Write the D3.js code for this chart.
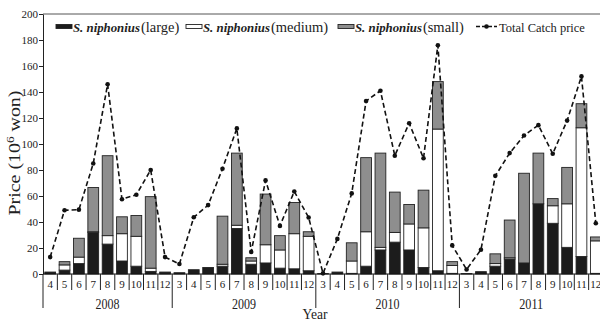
<!DOCTYPE html>
<html>
<head>
<meta charset="utf-8">
<script src="https://cdn.jsdelivr.net/npm/d3@7"></script>
<style>
  body { margin: 0; background: #fff; }
  text { font-family: "Liberation Serif", "Times New Roman", serif; fill: #222; }
</style>
</head>
<body>
<div id="root"></div>
<script>
const width = 600;
const height = 323;

// data (10^6 won)
const years = ['2008', '2009', '2010', '2011'];
const monthsByYear = [
  [4, 5, 6, 7, 8, 9, 10, 11, 12],
  [3, 4, 5, 6, 7, 8, 9, 10, 11, 12],
  [3, 4, 5, 6, 7, 8, 9, 10, 11, 12],
  [3, 4, 5, 6, 7, 8, 9, 10, 11, 12]
];
const large = [
  1.5, 3, 8, 32, 23, 10, 6, 2, 1.5,
  1, 3.3, 5, 6, 35, 7.5, 8.5, 4.5, 4, 2.5,
  0.3, 1.5, 0.5, 6, 18.5, 24.5, 18.5, 5, 2.5, 0.5,
  0.3, 1.8, 6, 11.5, 8.5, 54, 39, 20.5, 13.5, 0.5
];
const medium = [
  0, 4, 5, 0.5, 6.5, 21, 23, 2.5, 0,
  0, 0, 0, 1.5, 2.5, 2.5, 14, 14, 27, 26.5,
  0, 0, 9.5, 26.5, 2, 7.5, 20, 30.5, 109, 6,
  0, 0, 2, 1, 0, 0, 13.5, 33.5, 99, 25
];
const small = [
  0, 2.5, 14.5, 34, 61.5, 13, 16, 55, 0,
  0, 0, 0, 37, 55.5, 2.5, 39, 11, 24, 3.5,
  0, 0, 14, 57, 72.5, 31, 15, 29, 36.5, 3,
  0, 0, 7.5, 29, 69, 39, 5.5, 28, 18.5, 3
];
const total = [
  13, 49, 49.5, 85, 146, 57.5, 61, 80, 13,
  7.7, 43.6, 53, 81, 112, 17, 72, 37, 63.5, 43.5,
  0.5, 27, 62, 133, 141, 91, 116, 89, 176, 22,
  3.5, 18.7, 75.5, 93, 106.5, 114.5, 92.5, 118, 152, 39
];
const yTicks = d3.range(0, 201, 20);

const months = monthsByYear.flat();
const idx = d3.range(months.length);
const keys = ['large', 'medium', 'small'];
const colors = { large: '#1c1c1c', medium: '#ffffff', small: '#8e8e8e' };
const rows = idx.map(i => ({ i, large: large[i], medium: medium[i], small: small[i] }));

const padding = { left: 43, right: -3, top: 14, bottom: 49 };

const svg = d3.select('#root')
  .append('svg')
  .attr('width', width).attr('height', height);

const xScale = d3.scaleBand()
  .domain(idx)
  .range([padding.left, width - padding.right]);

const yScale = d3.scaleLinear()
  .domain([0, 200])
  .range([height - padding.bottom, padding.top]);

const y0 = yScale(0);
const bw = xScale.bandwidth();
const barW = bw * 0.75;

// frame top
svg.append('line')
  .attr('x1', padding.left).attr('x2', width)
  .attr('y1', yScale(200)).attr('y2', yScale(200))
  .attr('stroke', '#555').attr('stroke-width', 1);

// stacked bars
const stack = d3.stack().keys(keys)(rows);
svg.append('g').selectAll('g')
  .data(stack).enter()
  .append('g')
  .attr('fill', d => colors[d.key])
  .selectAll('rect')
  .data(d => d).enter()
  .append('rect')
  .attr('x', d => xScale(d.data.i) + (bw - barW) / 2)
  .attr('y', d => yScale(d[1]))
  .attr('width', barW)
  .attr('height', d => yScale(d[0]) - yScale(d[1]))
  .attr('stroke', '#222')
  .attr('stroke-width', d => (d[1] - d[0]) > 0 ? 0.9 : 0);

// y axis
const yAxis = d3.axisLeft(yScale).tickValues(yTicks).tickSize(4).tickSizeOuter(0).tickPadding(1);
const gy = svg.append('g')
  .attr('transform', `translate(${padding.left}, 0)`)
  .call(yAxis);
gy.select('.domain').attr('stroke', '#222');
gy.selectAll('.tick line').attr('stroke', '#222');
gy.selectAll('.tick text')
  .style('font-family', '"Liberation Serif", serif')
  .attr('font-size', 11).attr('fill', '#222');

// baseline
svg.append('line')
  .attr('x1', padding.left).attr('x2', width)
  .attr('y1', y0).attr('y2', y0)
  .attr('stroke', '#111').attr('stroke-width', 1.2);

// month separators and labels
const gx = svg.append('g');
let start = 0;
const yearStarts = [];
monthsByYear.forEach(ms => { yearStarts.push(start); start += ms.length; });

gx.selectAll('.sep')
  .data(idx.concat([months.length])).enter()
  .append('line')
  .attr('x1', i => i < months.length ? xScale(i) : xScale(i - 1) + bw)
  .attr('x2', i => i < months.length ? xScale(i) : xScale(i - 1) + bw)
  .attr('y1', y0)
  .attr('y2', i => (yearStarts.includes(i) || i === months.length) ? y0 + 34 : y0 + 16)
  .attr('stroke', '#222').attr('stroke-width', 1);

gx.selectAll('.mlab')
  .data(idx).enter()
  .append('text')
  .attr('x', i => xScale(i) + bw / 2)
  .attr('y', y0 + 14)
  .attr('text-anchor', 'middle')
  .attr('font-size', 11)
  .text(i => months[i]);

gx.selectAll('.ylab')
  .data(years).enter()
  .append('text')
  .attr('x', (d, k) => {
    const a = yearStarts[k], b = a + monthsByYear[k].length - 1;
    return (xScale(a) + xScale(b) + bw) / 2;
  })
  .attr('y', y0 + 35)
  .attr('text-anchor', 'middle')
  .attr('font-size', 15)
  .attr('textLength', 24)
  .attr('lengthAdjust', 'spacingAndGlyphs')
  .text(d => d);

svg.append('text')
  .attr('x', 315).attr('y', y0 + 45)
  .attr('text-anchor', 'middle')
  .attr('font-size', 14)
  .attr('textLength', 25)
  .attr('lengthAdjust', 'spacingAndGlyphs')
  .text('Year');

// y title
const yt = svg.append('text')
  .attr('transform', `translate(19.5, 153) rotate(-90)`)
  .attr('text-anchor', 'middle')
  .attr('font-size', 16)
  .attr('textLength', 125)
  .attr('lengthAdjust', 'spacingAndGlyphs');
yt.append('tspan').text('Price (10');
yt.append('tspan').attr('font-size', 10.5).attr('dy', -6).text('6');
yt.append('tspan').attr('dy', 6).text(' won)');

// total price line
const line = d3.line()
  .x((d, i) => xScale(i) + bw / 2)
  .y(d => yScale(d));

svg.append('path')
  .datum(total)
  .attr('d', line)
  .attr('fill', 'none')
  .attr('stroke', '#111')
  .attr('stroke-width', 1.6)
  .attr('stroke-dasharray', '5,3');

svg.append('g').selectAll('circle')
  .data(total).enter()
  .append('circle')
  .attr('cx', (d, i) => xScale(i) + bw / 2)
  .attr('cy', d => yScale(d))
  .attr('r', 2.3)
  .attr('fill', '#111');

// legend
const legend = [
  { key: 'large', x: 56, label: '(large)' },
  { key: 'medium', x: 186, label: '(medium)' },
  { key: 'small', x: 338, label: '(small)' }
];
const lg = svg.append('g');
legend.forEach(l => {
  lg.append('rect')
    .attr('x', l.x).attr('y', 24.5)
    .attr('width', 16).attr('height', 4)
    .attr('fill', colors[l.key]).attr('stroke', '#222').attr('stroke-width', 0.9);
  const sp = lg.append('text')
    .attr('x', l.x + 17).attr('y', 31.5)
    .attr('font-size', 12.8)
    .attr('font-weight', 'bold').attr('font-style', 'italic')
    .text('S. niphonius');
  const w = sp.node().getComputedTextLength();
  lg.append('text')
    .attr('x', l.x + 18 + w).attr('y', 31.5)
    .attr('font-size', 14.5)
    .text(l.label);
});
lg.append('line')
  .attr('x1', 476).attr('x2', 497).attr('y1', 26.5).attr('y2', 26.5)
  .attr('stroke', '#111').attr('stroke-width', 1.6).attr('stroke-dasharray', '4,2');
lg.append('circle').attr('cx', 486.5).attr('cy', 26.5).attr('r', 2.3).attr('fill', '#111');
lg.append('text')
  .attr('x', 499).attr('y', 31.5)
  .attr('font-size', 12.5)
  .text('Total Catch price');
</script>
</body>
</html>
